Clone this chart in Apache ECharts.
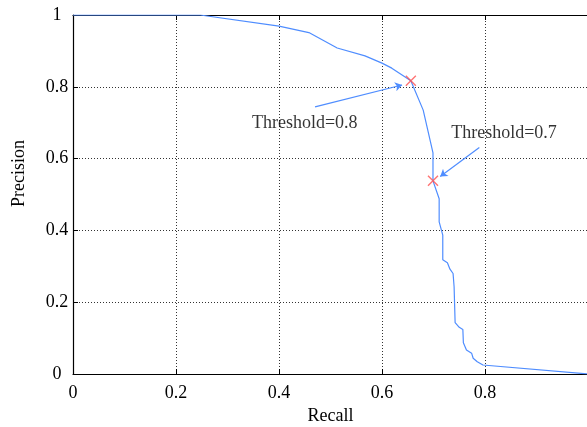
<!DOCTYPE html>
<html>
<head>
<meta charset="utf-8">
<script src="https://cdn.jsdelivr.net/npm/echarts@6/dist/echarts.min.js"></script>
<style>
  html, body { margin: 0; padding: 0; background: #fff; }
  #chart { width: 587px; height: 427px; }
</style>
</head>
<body>
<div id="chart"></div>
<script>
// precision-recall curve
const recall = [0, 0.247, 0.4, 0.458, 0.513, 0.567, 0.6, 0.619, 0.656, 0.68, 0.699, 0.699,
  0.711, 0.711, 0.718, 0.718, 0.727, 0.732, 0.738, 0.740, 0.742, 0.750, 0.757, 0.758,
  0.764, 0.774, 0.777, 0.785, 0.796, 1]
const precision = [1, 1, 0.969, 0.951, 0.908, 0.886, 0.866, 0.852, 0.817, 0.735, 0.616, 0.538,
  0.488, 0.424, 0.387, 0.318, 0.310, 0.292, 0.280, 0.243, 0.143, 0.130, 0.124, 0.087,
  0.067, 0.058, 0.044, 0.034, 0.025, 0]

// threshold markers
const markRecall = [0.656, 0.699]
const markPrecision = [0.817, 0.538]

// annotations: label position and arrow (from -> to)
const noteText = ['Threshold=0.8', 'Threshold=0.7']
const notePos = [[0.450, 0.699], [0.837, 0.671]]
const arrowFrom = [[0.47, 0.744], [0.789, 0.631]]
const arrowTo = [[0.639, 0.805], [0.713, 0.55]]

const xTicks = [0, 0.2, 0.4, 0.6, 0.8]

const FONT = 'Liberation Serif'
const BLUE = '#4f8dff'
const RED = '#ff5050'

const chart = echarts.init(document.getElementById('chart'), null, { renderer: 'canvas' })

const gridLine = { show: true, lineStyle: { color: '#333', type: [1, 2], width: 1 } }
const frame = { show: true, onZero: false, lineStyle: { color: '#000', width: 1.2 } }
const inTick = { show: true, inside: true, length: 5, lineStyle: { color: '#000' } }

chart.setOption({
  animation: false,
  backgroundColor: '#fff',
  textStyle: { fontFamily: FONT },
  // plot box runs one pixel past the right edge, so don't let v6 squeeze it in
  grid: { left: 73, top: 15, width: 515, height: 359, outerBoundsMode: 'none' },
  xAxis: [{
    type: 'value', min: 0, max: 1, interval: 0.2,
    name: 'Recall', nameLocation: 'middle', nameGap: 31,
    nameTextStyle: { fontFamily: FONT, fontSize: 18, color: '#000' },
    axisLine: frame, axisTick: inTick, splitLine: gridLine,
    axisLabel: {
      fontFamily: FONT, fontSize: 18, color: '#000', margin: 10,
      formatter: v => xTicks.includes(v) ? String(v) : ''
    }
  }, {
    type: 'value', min: 0, max: 1, interval: 0.2, position: 'top',
    axisLine: frame, axisTick: inTick, splitLine: { show: false },
    axisLabel: { show: false }
  }],
  yAxis: [{
    type: 'value', min: 0, max: 1, interval: 0.2,
    name: 'Precision', nameLocation: 'middle', nameGap: 45,
    nameTextStyle: { fontFamily: FONT, fontSize: 18, color: '#000', padding: [0, 0, 0, 42] },
    axisLine: frame, axisTick: inTick, splitLine: gridLine,
    axisLabel: {
      fontFamily: FONT, fontSize: 18, color: '#000', margin: 16, align: 'center',
      formatter: v => String(v)
    }
  }],
  series: [{
    type: 'line',
    data: recall.map((r, i) => [r, precision[i]]),
    showSymbol: false,
    lineStyle: { color: BLUE, width: 1.2 },
    z: 3
  }, {
    type: 'scatter',
    data: markRecall.map((r, i) => [r, markPrecision[i]]),
    symbol: 'path://M0,0L10,10M10,0L0,10',
    symbolSize: 10,
    itemStyle: { color: 'none', borderColor: RED, borderWidth: 1.4 },
    z: 4
  }, {
    type: 'lines',
    coordinateSystem: 'cartesian2d',
    data: arrowFrom.map((f, i) => ({ coords: [f, arrowTo[i]] })),
    symbol: ['none', 'arrow'],
    symbolSize: 7,
    lineStyle: { color: BLUE, width: 1.2, opacity: 1 },
    z: 4
  }, {
    type: 'scatter',
    data: notePos.map((p, i) => ({ value: p, name: noteText[i] })),
    symbolSize: 0,
    label: {
      show: true, position: 'inside', formatter: '{b}',
      fontFamily: FONT, fontSize: 18, color: '#000'
    },
    z: 5
  }]
})
</script>
</body>
</html>
